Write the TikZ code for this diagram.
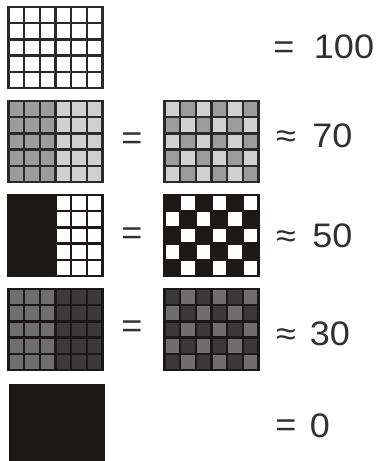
\documentclass[tikz,border=0pt]{standalone}
\usepackage{graphicx}
\usepackage{fontspec}
\setmainfont{Liberation Sans}
\definecolor{blk}{HTML}{1D1816}
\definecolor{gline}{HTML}{2A2A2A}
\definecolor{lgray}{HTML}{D0D0D0}
\definecolor{mgray}{HTML}{9C9C9C}
\definecolor{dgray}{HTML}{6E6E6E}
\definecolor{vdgray}{HTML}{3A3A3A}
\definecolor{txt}{HTML}{303030}
\newcommand\cw{15.6667}
\newcommand\chh{16.2}
% cell fill: x0 y0 col row colour
\newcommand\mycell[5]{\fill[#5] ({#1+#3*\cw},{#2+#4*\chh}) rectangle ({#1+(#3+1)*\cw},{#2+(#4+1)*\chh});}
% grid lines: x0 y0 first column index where the inner lines start
\newcommand\mylines[3]{%
  \foreach \i in {#3,...,5} \draw[gl] ({#1+\i*\cw},#2) -- ({#1+\i*\cw},{#2+81});
  \foreach \j in {1,...,4} \draw[gl] ({#1+#3*\cw},{#2+\j*\chh}) -- ({#1+94},{#2+\j*\chh});
  \draw[gl] (#1,#2) rectangle ({#1+94},{#2+81});}
% half fill: x0 y0 leftcolour rightcolour
\newcommand\myhalf[4]{%
  \fill[#3] (#1,#2) rectangle ({#1+47},{#2+81});
  \fill[#4] ({#1+47},#2) rectangle ({#1+94},{#2+81});}
% checker: x0 y0 colourA(top-left) colourB
\newcommand\mychecker[4]{%
  \foreach \i in {0,...,5}{\foreach \j in {0,...,4}{%
    \pgfmathtruncatemacro\myparity{mod(\i+\j,2)}%
    \ifnum\myparity=0 \mycell{#1}{#2}{\i}{\j}{#3}\else\mycell{#1}{#2}{\i}{\j}{#4}\fi}}}
\newcommand\sx[1]{\scalebox{1.06}[1]{#1}}
\begin{document}
\begin{tikzpicture}[x=1pt,y=-1pt,
  gl/.style={draw=gline,line width=2.3pt},
  lbl/.style={inner sep=0pt,text=txt,font=\fontsize{34}{40}\selectfont,anchor=base}]
\useasboundingbox (0,0) rectangle (376,461);
\fill[white] (0,0) rectangle (376,461);
\clip (0,0) rectangle (376,461);
% row 1
\fill[white] (8.5,7) rectangle (102.5,88);
\mylines{8.5}{7}{0}
% row 2
\myhalf{8.5}{101}{mgray}{lgray}
\mylines{8.5}{101}{0}
\mychecker{164.5}{101}{lgray}{mgray}
\mylines{164.5}{101}{0}
% row 3
\myhalf{8.5}{195}{blk}{white}
\mychecker{164.5}{195}{blk}{white}
\begin{scope}[gl/.style={draw=blk,line width=2.3pt}]
\mylines{8.5}{195}{3}
\mylines{164.5}{195}{0}
\end{scope}
% row 4
\myhalf{8.5}{289}{dgray}{vdgray}
\begin{scope}[gl/.style={draw=blk,line width=2.3pt}]
\mylines{8.5}{289}{0}
\mychecker{164.5}{289}{vdgray}{dgray}
\mylines{164.5}{289}{0}
\end{scope}
% row 5
\fill[blk] (9,384) rectangle (105,465);
% labels
\node[lbl] (e1) at (284,58) {\sx{=}};
\node[lbl] (v100) at (344,58) {\sx{100}};
\node[lbl] (m2) at (132,149) {\sx{=}};
\node[lbl] (a2) at (286,147) {\sx{≈}};
\node[lbl] (v70) at (332.5,147) {\sx{70}};
\node[lbl] (m3) at (132,244) {\sx{=}};
\node[lbl] (a3) at (286,247) {\sx{≈}};
\node[lbl] (v50) at (332.5,247) {\sx{50}};
\node[lbl] (m4) at (132,337) {\sx{=}};
\node[lbl] (a4) at (286,345) {\sx{≈}};
\node[lbl] (v30) at (330,345) {\sx{30}};
\node[lbl] (e5) at (286,436) {\sx{=}};
\node[lbl] (v0) at (320,437) {\sx{0}};
\end{tikzpicture}
\end{document}
